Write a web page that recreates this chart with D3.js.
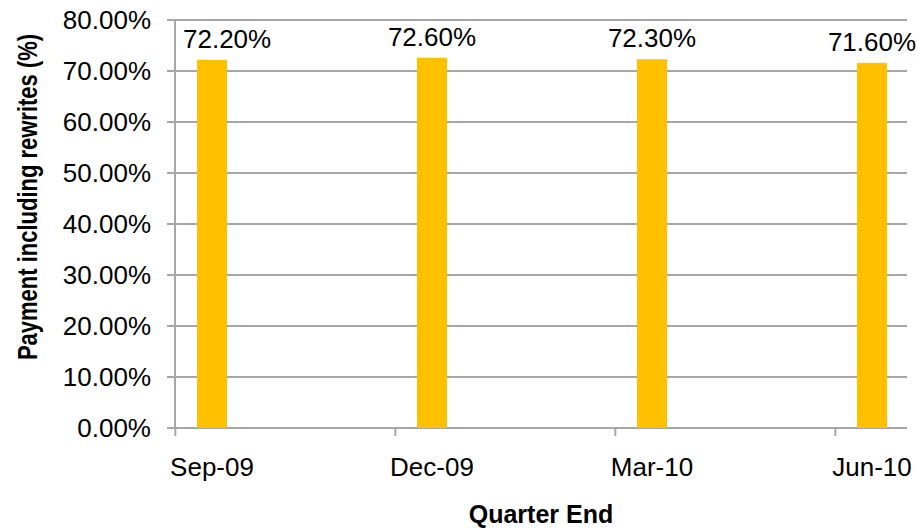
<!DOCTYPE html>
<html><head><meta charset="utf-8">
<script src="https://cdn.jsdelivr.net/npm/d3@7"></script>
<style>body{margin:0;background:#fff}svg{display:block}text{font-family:"Liberation Sans",Arial,sans-serif}</style>
</head><body><svg id="c" width="917" height="529"></svg>
<script>
const categories = ["Sep-09","Dec-09","Mar-10","Jun-10"];
const values = [72.2, 72.6, 72.3, 71.6];
const yTicks = [0,10,20,30,40,50,60,70,80];
const yTitle = "Payment including rewrites (%)";
const xTitle = "Quarter End";

(function(){
const svg = d3.select("#c");
const mLeft = 175, mRight = 907, mTop = 20, mBottom = 428;
const y = d3.scaleLinear().domain([0,80]).range([mBottom, mTop]);
const x = d3.scalePoint().domain(categories).range([212, 872]);
const step = x.step();
const gridColor = "#a6a6a6";

// gridlines
svg.append("g").selectAll("line").data(yTicks).join("line")
  .attr("x1", mLeft - 8).attr("x2", mRight)
  .attr("y1", d => y(d)).attr("y2", d => y(d))
  .attr("stroke", gridColor).attr("stroke-width", 2);

// y axis line
svg.append("line").attr("x1", mLeft).attr("x2", mLeft).attr("y1", mTop).attr("y2", mBottom)
  .attr("stroke", gridColor).attr("stroke-width", 2);

// x tick marks
svg.append("g").selectAll("line").data(categories).join("line")
  .attr("x1", d => x(d) - step/6).attr("x2", d => x(d) - step/6)
  .attr("y1", mBottom).attr("y2", mBottom + 8)
  .attr("stroke", gridColor).attr("stroke-width", 2);

// y tick labels
svg.append("g").selectAll("text").data(yTicks).join("text")
  .attr("x", 151).attr("y", d => y(d) + 9)
  .attr("text-anchor", "end").attr("font-size", 26).attr("fill", "#000")
  .text(d => d.toFixed(2) + "%");

// bars
svg.append("g").selectAll("rect").data(values).join("rect")
  .attr("x", (d,i) => x(categories[i]) - 15).attr("width", 30)
  .attr("y", d => y(d)).attr("height", d => y(0) - y(d))
  .attr("fill", "#FFC000");

// bar labels (kept clear of the value axis, as in the reference)
svg.append("g").selectAll("text").data(values).join("text")
  .attr("x", (d,i) => x(categories[i])).attr("y", d => y(d) - 12)
  .attr("text-anchor", "middle").attr("font-size", 26).attr("fill", "#000")
  .text(d => d.toFixed(2) + "%")
  .each(function(d,i){
    const w = this.getComputedTextLength();
    const cx = x(categories[i]);
    if (cx - w/2 < mLeft + 8) d3.select(this).attr("x", mLeft + 8 + w/2);
  });

// x labels
svg.append("g").selectAll("text").data(categories).join("text")
  .attr("x", d => x(d)).attr("y", 476)
  .attr("text-anchor", "middle").attr("font-size", 26).attr("fill", "#000")
  .text(d => d);

// titles
svg.append("text").attr("x", 541).attr("y", 523).attr("text-anchor", "middle")
  .attr("font-size", 25).attr("font-weight", "bold").text(xTitle);
svg.append("text").attr("transform", "translate(37,197) rotate(-90) scale(1,1.25)")
  .attr("text-anchor", "middle").attr("font-size", 22).attr("font-weight", "bold").text(yTitle);
})();
</script></body></html>
